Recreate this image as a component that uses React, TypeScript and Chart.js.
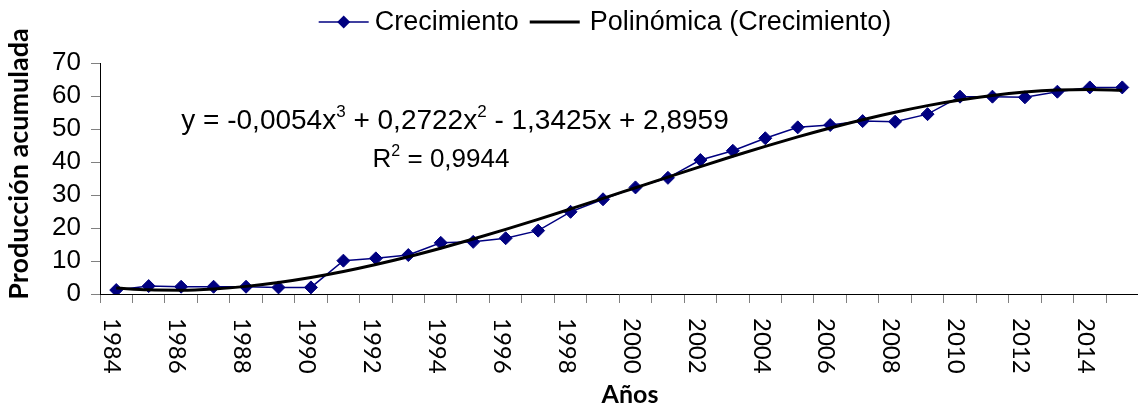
import { useEffect, useRef } from "react";
import { Chart, registerables } from "chart.js";

Chart.register(...registerables);

// ---- data ----
const years = [
  "1984", "1985", "1986", "1987", "1988", "1989", "1990", "1991",
  "1992", "1993", "1994", "1995", "1996", "1997", "1998", "1999",
  "2000", "2001", "2002", "2003", "2004", "2005", "2006", "2007",
  "2008", "2009", "2010", "2011", "2012", "2013", "2014", "2015",
];

const crecimiento = [
  1.2, 2.4, 2.2, 2.2, 2.2, 2.0, 2.0, 10.1,
  10.8, 11.8, 15.5, 15.8, 16.9, 19.2, 24.9, 28.7,
  32.3, 35.2, 40.6, 43.4, 47.2, 50.5, 51.2, 52.4,
  52.2, 54.5, 59.8, 59.8, 59.6, 61.3, 62.6, 62.6,
];

const polinomica = [
  1.82, 1.26, 1.17, 1.54, 2.31, 3.47, 4.98, 6.81,
  8.93, 11.29, 13.88, 16.65, 19.58, 22.63, 25.78, 28.98,
  32.21, 35.43, 38.61, 41.73, 44.73, 47.61, 50.31, 52.81,
  55.08, 57.09, 58.79, 60.17, 61.18, 61.80, 61.99, 61.72,
];

const xTickLabels = [
  "1984", "1986", "1988", "1990", "1992", "1994", "1996", "1998",
  "2000", "2002", "2004", "2006", "2008", "2010", "2012", "2014",
];

const yTicks = [0, 10, 20, 30, 40, 50, 60, 70];

const seriesName = "Crecimiento";
const trendName = "Polinómica (Crecimiento)";
const xTitle = "Años";
const yTitle = "Producción acumulada";

// equation parts: [text, isSuperscript]
const equationParts: [string, boolean][] = [
  ["y = -0,0054x", false],
  ["3", true],
  [" + 0,2722x", false],
  ["2", true],
  [" - 1,3425x + 2,8959", false],
];
const r2Parts: [string, boolean][] = [
  ["R", false],
  ["2", true],
  [" = 0,9944", false],
];

// ---- styles ----
const NAVY = "#000080";
const ARIAL = "'Liberation Sans', Arial, sans-serif";
const CAL = "Lato, 'Open Sans', sans-serif";

function drawRich(
  ctx: CanvasRenderingContext2D,
  parts: [string, boolean][],
  cx: number,
  baseline: number,
  size: number
) {
  const supSize = Math.round(size * 0.62);
  let total = 0;
  parts.forEach(([t, sup]) => {
    ctx.font = `${sup ? supSize : size}px ${ARIAL}`;
    total += ctx.measureText(t).width;
  });
  let x = cx - total / 2;
  ctx.textAlign = "left";
  ctx.textBaseline = "alphabetic";
  parts.forEach(([t, sup]) => {
    ctx.font = `${sup ? supSize : size}px ${ARIAL}`;
    ctx.fillText(t, x, sup ? baseline - size * 0.42 : baseline);
    x += ctx.measureText(t).width;
  });
}

const overlayPlugin = {
  id: "overlay",
  afterDraw(chart: any) {
    const ctx: CanvasRenderingContext2D = chart.ctx;
    const xs = chart.scales.x;
    ctx.save();
    ctx.fillStyle = "#000";

    // x tick labels (rotated clockwise)
    ctx.font = `24px ${CAL}`;
    xTickLabels.forEach((lbl) => {
      const idx = years.indexOf(lbl);
      const px = xs.getPixelForValue(idx);
      ctx.save();
      ctx.translate(px - 4, xs.top + 24);
      ctx.rotate(Math.PI / 2);
      ctx.textAlign = "left";
      ctx.textBaseline = "middle";
      ctx.fillText(lbl, 0, 0);
      ctx.restore();
    });

    // axis titles
    ctx.font = `bold 25px ${CAL}`;
    ctx.textAlign = "center";
    ctx.textBaseline = "alphabetic";
    ctx.fillText(xTitle, 630, 403);

    ctx.font = `bold 27px ${CAL}`;
    ctx.save();
    ctx.translate(28, 164);
    ctx.rotate(-Math.PI / 2);
    ctx.fillText(yTitle, 0, 0);
    ctx.restore();

    // equation + R2
    drawRich(ctx, equationParts, 455, 129, 28);
    drawRich(ctx, r2Parts, 441, 167, 26);

    // legend
    ctx.font = `27px ${ARIAL}`;
    const w1 = ctx.measureText(seriesName).width;
    const w2 = ctx.measureText(trendName).width;
    const total = 50 + 6 + w1 + 11 + 50 + 10 + w2;
    let lx = 605 - total / 2;
    const ly = 22;
    ctx.strokeStyle = NAVY;
    ctx.lineWidth = 1.5;
    ctx.beginPath();
    ctx.moveTo(lx, ly);
    ctx.lineTo(lx + 50, ly);
    ctx.stroke();
    ctx.fillStyle = NAVY;
    ctx.beginPath();
    const dx = lx + 25;
    ctx.moveTo(dx, ly - 6.5);
    ctx.lineTo(dx + 6.5, ly);
    ctx.lineTo(dx, ly + 6.5);
    ctx.lineTo(dx - 6.5, ly);
    ctx.closePath();
    ctx.fill();
    lx += 56;
    ctx.fillStyle = "#000";
    ctx.textAlign = "left";
    ctx.textBaseline = "middle";
    ctx.fillText(seriesName, lx, ly + 1);
    lx += w1 + 11;
    ctx.strokeStyle = "#000";
    ctx.lineWidth = 3;
    ctx.beginPath();
    ctx.moveTo(lx, ly);
    ctx.lineTo(lx + 50, ly);
    ctx.stroke();
    lx += 60;
    ctx.fillText(trendName, lx, ly + 1);

    ctx.restore();
  },
};

export default function App() {
  const canvasRef = useRef<HTMLCanvasElement | null>(null);

  useEffect(() => {
    if (!canvasRef.current) return;
    const chart = new Chart(canvasRef.current, {
      type: "line",
      data: {
        labels: years,
        datasets: [
          {
            label: trendName,
            data: polinomica,
            borderColor: "#000",
            borderWidth: 3,
            pointRadius: 0,
            cubicInterpolationMode: "monotone",
            order: 0,
          },
          {
            label: seriesName,
            data: crecimiento,
            borderColor: NAVY,
            backgroundColor: NAVY,
            borderWidth: 1.5,
            pointStyle: "rectRot",
            pointRadius: 6.5,
            pointBorderWidth: 1,
            pointBackgroundColor: NAVY,
            pointBorderColor: NAVY,
            order: 1,
          },
        ],
      },
      options: {
        animation: false,
        responsive: true,
        maintainAspectRatio: false,
        events: [],
        layout: { padding: { top: 63, left: 0, right: 0, bottom: 0 } },
        plugins: {
          legend: { display: false },
          tooltip: { enabled: false },
        },
        scales: {
          x: {
            type: "category",
            offset: true,
            grid: {
              offset: true,
              drawOnChartArea: false,
              drawTicks: true,
              tickLength: 9,
              color: "#808080",
            },
            border: { color: "#000", width: 1 },
            ticks: { display: false, autoSkip: false },
            afterFit: (s: any) => {
              s.height = 111;
            },
          },
          y: {
            min: 0,
            max: 70,
            afterBuildTicks: (s: any) => {
              s.ticks = yTicks.map((v) => ({ value: v }));
            },
            ticks: {
              autoSkip: false,
              color: "#000",
              padding: 10,
              font: { family: ARIAL, size: 26 },
            },
            grid: {
              drawOnChartArea: false,
              drawTicks: true,
              tickLength: 9,
              color: "#808080",
            },
            border: { color: "#000", width: 1 },
            afterFit: (s: any) => {
              s.width = 100;
            },
          },
        },
      },
      plugins: [overlayPlugin],
    });
    return () => chart.destroy();
  }, []);

  return (
    <div
      style={{
        position: "fixed",
        left: 0,
        top: 0,
        width: 1138,
        height: 405,
        overflow: "hidden",
        background: "#fff",
      }}
    >
      <div style={{ position: "relative", width: 1146, height: 405 }}>
        <canvas ref={canvasRef} />
      </div>
    </div>
  );
}
